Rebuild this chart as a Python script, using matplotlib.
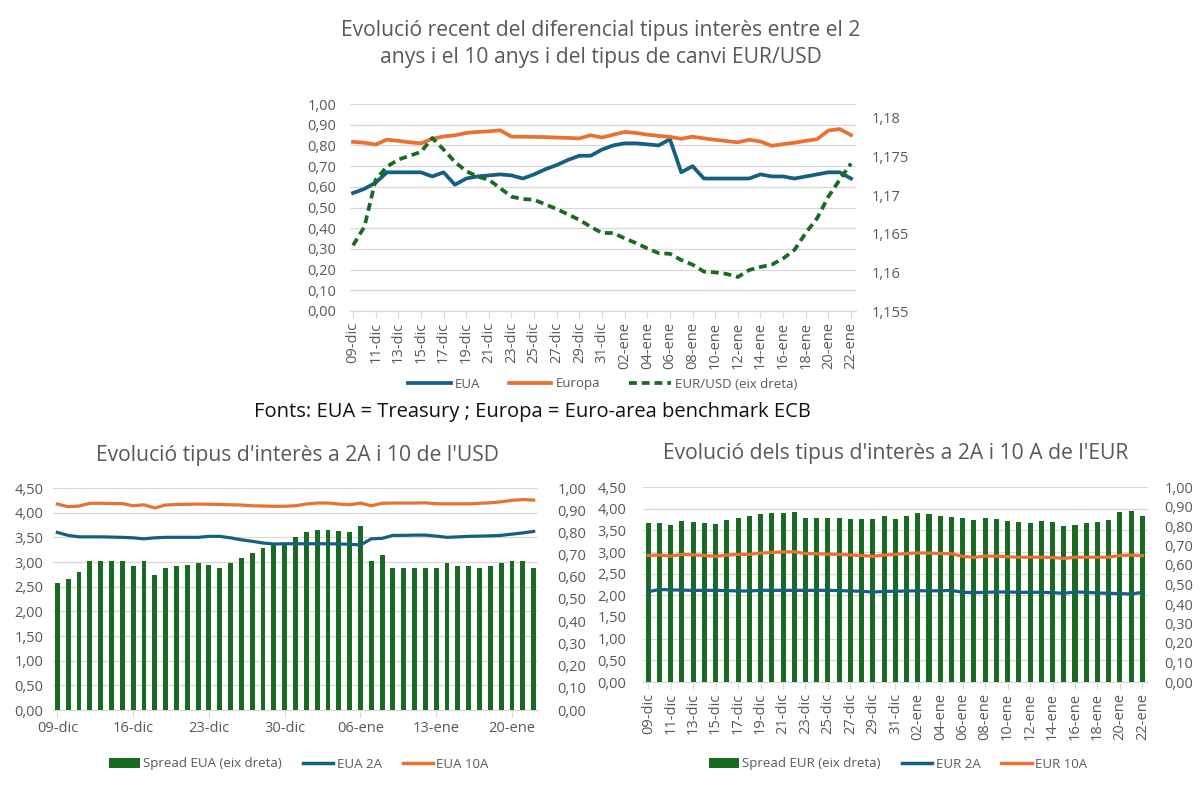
import matplotlib
matplotlib.use("Agg")
import matplotlib.pyplot as plt
from matplotlib.lines import Line2D
from matplotlib.patches import Patch
from matplotlib.ticker import FuncFormatter
import numpy as np
import pandas as pd

plt.rcParams['font.family'] = ['Open Sans', 'DejaVu Sans']

# ---------------- data ----------------
dates = pd.date_range('2025-12-09', '2026-01-22', freq='D')
MONTHS = {12: 'dic', 1: 'ene'}
date_labels = [f"{d.day:02d}-{MONTHS[d.month]}" for d in dates]

# spread 10A-2A USD (top "EUA" line and bottom-left bars)
spread_usd = [0.57, 0.59, 0.62, 0.67, 0.67, 0.67, 0.67, 0.65, 0.67, 0.61,
              0.64, 0.65, 0.655, 0.66, 0.655, 0.64, 0.66, 0.685, 0.705, 0.73,
              0.75, 0.75, 0.78, 0.80, 0.81, 0.81, 0.805, 0.80, 0.83, 0.67,
              0.70, 0.64, 0.64, 0.64, 0.64, 0.64, 0.66, 0.65, 0.65, 0.64,
              0.65, 0.66, 0.67, 0.67, 0.64]
# spread 10A-2A EUR (top "Europa" line and bottom-right bars)
spread_eur = [0.817, 0.813, 0.804, 0.828, 0.822, 0.815, 0.81, 0.832, 0.843, 0.849,
              0.86, 0.865, 0.868, 0.873, 0.842, 0.842, 0.841, 0.84, 0.838, 0.836,
              0.834, 0.849, 0.838, 0.852, 0.865, 0.86, 0.852, 0.846, 0.841, 0.832,
              0.842, 0.834, 0.827, 0.821, 0.815, 0.827, 0.819, 0.798, 0.806, 0.813,
              0.822, 0.83, 0.872, 0.879, 0.85]
eurusd = [1.1635, 1.1659, 1.1720, 1.1737, 1.1746, 1.1751, 1.1756, 1.1774, 1.1759, 1.1743,
          1.1731, 1.1724, 1.1720, 1.1709, 1.1698, 1.1695, 1.1694, 1.1688, 1.1682, 1.1675,
          1.1668, 1.1659, 1.1651, 1.1651, 1.1644, 1.1638, 1.1631, 1.1625, 1.1624, 1.1616,
          1.1610, 1.1601, 1.1600, 1.1598, 1.1594, 1.1603, 1.1607, 1.1610, 1.1618, 1.1629,
          1.1651, 1.1670, 1.1698, 1.1720, 1.1741]
eua_2a = [3.60, 3.54, 3.51, 3.51, 3.51, 3.505, 3.50, 3.49, 3.47, 3.49,
          3.50, 3.50, 3.50, 3.50, 3.52, 3.52, 3.49, 3.45, 3.42, 3.385,
          3.365, 3.37, 3.37, 3.37, 3.37, 3.37, 3.365, 3.36, 3.345, 3.47,
          3.48, 3.54, 3.54, 3.545, 3.545, 3.525, 3.50, 3.51, 3.52, 3.525,
          3.53, 3.54, 3.565, 3.59, 3.62]
eua_10a = [4.175, 4.12, 4.135, 4.19, 4.19, 4.185, 4.185, 4.14, 4.16, 4.095,
           4.155, 4.165, 4.17, 4.175, 4.17, 4.165, 4.16, 4.155, 4.14, 4.135,
           4.13, 4.13, 4.14, 4.175, 4.195, 4.195, 4.175, 4.16, 4.195, 4.14,
           4.19, 4.195, 4.195, 4.195, 4.20, 4.18, 4.18, 4.18, 4.18, 4.19,
           4.20, 4.22, 4.25, 4.265, 4.255]
eur_2a = [2.085, 2.135, 2.125, 2.12, 2.115, 2.115, 2.115, 2.11, 2.10, 2.10,
          2.115, 2.115, 2.115, 2.115, 2.115, 2.115, 2.115, 2.11, 2.10, 2.095,
          2.075, 2.09, 2.095, 2.10, 2.105, 2.105, 2.105, 2.115, 2.07, 2.062,
          2.07, 2.077, 2.077, 2.07, 2.07, 2.07, 2.062, 2.047, 2.077, 2.07,
          2.055, 2.047, 2.04, 2.03, 2.07]
eur_10a = [2.92, 2.93, 2.905, 2.945, 2.935, 2.92, 2.90, 2.93, 2.945, 2.945,
           2.975, 2.99, 3.0, 3.005, 2.965, 2.96, 2.95, 2.945, 2.93, 2.92,
           2.90, 2.93, 2.945, 2.965, 2.98, 2.975, 2.965, 2.96, 2.90, 2.875,
           2.905, 2.905, 2.89, 2.88, 2.88, 2.88, 2.875, 2.85, 2.88, 2.88,
           2.88, 2.88, 2.92, 2.93, 2.915]

title_top = "Evolució recent del diferencial tipus interès entre el 2\nanys i el 10 anys i del tipus de canvi EUR/USD"
title_usd = "Evolució tipus d'interès a 2A i 10 de l'USD"
title_eur = "Evolució dels tipus d'interès a 2A i 10 A de l'EUR"
source_txt = "Fonts: EUA = Treasury ; Europa = Euro-area benchmark ECB"

# ---------------- style ----------------
BLUE = '#156082'
ORANGE = '#E97132'
GREEN = '#196B24'
GRID = '#D9D9D9'
TXT = '#595959'
TICK_FS = 10.5

W, H = 1200, 787
fig = plt.figure(figsize=(W / 100, H / 100), dpi=100)


def box(x0, y0, x1, y1):
    return [x0 / W, 1 - y1 / H, (x1 - x0) / W, (y1 - y0) / H]


def comma(dec):
    return FuncFormatter(lambda v, p: f"{v:.{dec}f}".replace('.', ','))


def general_comma(v, p):
    s = f"{v:.3f}".rstrip('0').rstrip('.')
    return s.replace('.', ',')


def clean(ax, bottom=True):
    for s in ax.spines.values():
        s.set_visible(False)
    if bottom:
        ax.spines['bottom'].set_visible(True)
        ax.spines['bottom'].set_color(GRID)
        ax.spines['bottom'].set_linewidth(0.9)


x = np.arange(len(dates))

# ---------------- top chart ----------------
ax1 = fig.add_axes(box(350, 104, 856, 311))
clean(ax1)
ax1.set_ylim(0, 1.0)
ax1.set_yticks(np.arange(0, 1.001, 0.1))
ax1.yaxis.set_major_formatter(comma(2))
ax1.grid(axis='y', color=GRID, lw=0.9)
ax1.set_axisbelow(True)
ax1.plot(x, spread_usd, color=BLUE, lw=2.7, solid_joinstyle='round', label='EUA')
ax1.plot(x, spread_eur, color=ORANGE, lw=2.7, solid_joinstyle='round', label='Europa')
ax1.set_xlim(-0.27, 44.44)
ax1.set_xticks(x[::2])
ax1.set_xticklabels(date_labels[::2], rotation=90)
ax1.tick_params(axis='x', length=5, color=GRID, pad=3, labelsize=TICK_FS, labelcolor=TXT)
ax1.tick_params(axis='y', length=0, pad=10, labelsize=TICK_FS, labelcolor=TXT)

ax1r = ax1.twinx()
clean(ax1r, bottom=False)
ax1r.plot(x, eurusd, color=GREEN, lw=2.7, ls=(0, (2.1, 1.3)), label='EUR/USD (eix dreta)')
ax1r.set_ylim(1.155, 1.1818)
ax1r.set_yticks([1.155, 1.16, 1.165, 1.17, 1.175, 1.18])
ax1r.yaxis.set_major_formatter(FuncFormatter(general_comma))
ax1r.tick_params(axis='y', length=0, pad=11, labelsize=TICK_FS, labelcolor=TXT)

fig.text(601 / W, 1 - 44 / H, title_top, ha='center', va='center', fontsize=15.2,
         color=TXT, linespacing=1.4)

h_top = [Line2D([], [], color=BLUE, lw=2.7),
         Line2D([], [], color=ORANGE, lw=2.7),
         Line2D([], [], color=GREEN, lw=2.7, ls=(0, (2.1, 1.3)))]
fig.legend(h_top, ['EUA', 'Europa', 'EUR/USD (eix dreta)'], loc='center',
           bbox_to_anchor=(603 / W, 1 - 384 / H), ncol=3, frameon=False,
           fontsize=9.5, labelcolor=TXT, handlelength=3.2, handletextpad=0.3,
           columnspacing=2.2)

fig.text(532 / W, 1 - 412 / H, source_txt, ha='center', va='center',
         fontsize=14.5, color='#111111')

# ---------------- bottom charts ----------------
def bottom_chart(rect, spread, y2, y10, step, rotate, title, tcx, tcy, names, lcx):
    ax = fig.add_axes(rect)
    clean(ax)
    ax.set_ylim(0, 4.5)
    ax.set_yticks(np.arange(0, 4.501, 0.5))
    ax.yaxis.set_major_formatter(comma(2))
    ax.grid(axis='y', color=GRID, lw=0.9)
    ax.set_axisbelow(True)
    ax.tick_params(axis='y', length=0, labelsize=TICK_FS, labelcolor=TXT)

    axb = ax.twinx()
    clean(axb, bottom=False)
    axb.bar(x, spread, width=0.45, color=GREEN, zorder=2)
    axb.set_ylim(0, 1.0)
    axb.set_yticks(np.arange(0, 1.001, 0.1))
    axb.yaxis.set_major_formatter(comma(2))
    axb.tick_params(axis='y', length=0, labelsize=TICK_FS, labelcolor=TXT)

    axl = ax.twinx()
    clean(axl, bottom=False)
    axl.set_ylim(0, 4.5)
    axl.yaxis.set_visible(False)
    axl.plot(x, y2, color=BLUE, lw=2.3, solid_joinstyle='round')
    axl.plot(x, y10, color=ORANGE, lw=2.3, solid_joinstyle='round')

    ax.set_xticks(x[::step])
    ax.set_xticklabels(date_labels[::step], rotation=90 if rotate else 0)
    ax.tick_params(axis='x', length=5, color=GRID, pad=3, labelsize=TICK_FS, labelcolor=TXT)

    fig.text(tcx / W, 1 - tcy / H, title, ha='center', va='center', fontsize=15.2, color=TXT)
    hs = [Patch(facecolor=GREEN, edgecolor='none'),
          Line2D([], [], color=BLUE, lw=2.5),
          Line2D([], [], color=ORANGE, lw=2.5)]
    fig.legend(hs, names, loc='center', bbox_to_anchor=(lcx / W, 1 - 764 / H), ncol=3,
               frameon=False, fontsize=9.5, labelcolor=TXT, handlelength=2.3,
               handletextpad=0.25, columnspacing=1.6)
    return ax, axb, axl


axL, axLb, axLl = bottom_chart(box(53, 488, 538, 710), spread_usd, eua_2a, eua_10a, 7, False,
                               title_usd, 297, 456,
                               ['Spread EUA (eix dreta)', 'EUA 2A', 'EUA 10A'], 299)
axL.set_xlim(-0.4, 44.4)
axL.tick_params(axis='y', pad=7)
axLb.tick_params(axis='y', pad=14)

axR, axRb, axRl = bottom_chart(box(643, 487, 1148, 682), spread_eur, eur_2a, eur_10a, 2, True,
                               title_eur, 896, 453,
                               ['Spread EUR (eix dreta)', 'EUR 2A', 'EUR 10A'], 898)
axR.set_xlim(-0.47, 44.5)
axR.tick_params(axis='y', pad=12)
axRb.tick_params(axis='y', pad=12)

fig.savefig('out.png', dpi=100)
